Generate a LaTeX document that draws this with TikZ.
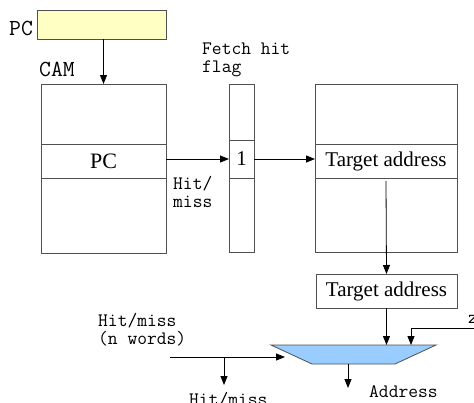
\documentclass[tikz,border=0pt]{standalone}
\usepackage{fontspec}
\setmainfont{Liberation Serif}
\usetikzlibrary{arrows.meta}
\definecolor{lgray}{RGB}{80,80,80}
\definecolor{pcyellow}{RGB}{255,255,196}
\definecolor{muxblue}{RGB}{153,204,255}
\newcommand{\mysmallmono}{\ttfamily\fontsize{19pt}{18pt}\selectfont}
\newcommand{\mylargemono}{\ttfamily\fontsize{23pt}{20pt}\selectfont}
\newcommand{\myserif}{\fontsize{21pt}{24pt}\selectfont}
\begin{document}
\begin{tikzpicture}[x=1pt,y=-1pt,
  box/.style={draw=lgray, line width=0.9pt, inner sep=0pt, outer sep=0pt},
  arr/.style={-{Triangle[length=9pt,width=7pt]}, line width=0.8pt, draw=black},
  mono/.style={font=\mysmallmono, inner sep=0pt, anchor=base west},
  monol/.style={font=\mylargemono, inner sep=0pt, anchor=base west},
  rowtxt/.style={font=\myserif}]
\useasboundingbox (0,0) rectangle (474,402);

% PC register
\node[box, fill=pcyellow, minimum width=129pt, minimum height=29pt] (pcbox) at (101.5,24.5) {};
\node[monol] (pclbl) at (9,35) {PC};

% CAM
\node[monol] (camlbl) at (39,76) {CAM};
\node[box, minimum width=125pt, minimum height=169pt] (cam) at (103.5,168.5) {};
\node[box, rowtxt, minimum width=125pt, minimum height=34pt, font=\fontsize{22pt}{24pt}\selectfont] (camrow) at (103.5,161) {PC};

% Fetch hit flag
\node[mono] (fhf1) at (202,54) {Fetch hit};
\node[mono] (fhf2) at (202,72) {flag};
\node[box, minimum width=25pt, minimum height=168pt] (flag) at (241.5,168) {};
\node[box, rowtxt, minimum width=25pt, minimum height=38pt] (flagrow) at (241.5,159) {1};

% Hit/miss label
\node[mono] (hm1) at (173,189) {Hit/};
\node[mono] (hm2) at (173,207) {miss};

% Target table
\node[box, minimum width=142pt, minimum height=168pt] (target) at (386,168) {};
\node[box, rowtxt, minimum width=142pt, minimum height=34pt] (trow) at (386,161) {Target address};

% Target address register
\node[box, rowtxt, minimum width=141pt, minimum height=34pt] (tabox) at (386.5,291) {Target address};

% Mux
\coordinate (mtl) at (271,345);
\coordinate (mtr) at (436,345);
\coordinate (mbr) at (395,364);
\coordinate (mbl) at (312,364);
\draw[draw=lgray, line width=0.8pt, fill=muxblue] (mtl) -- (mtr) -- (mbr) -- (mbl) -- cycle;

% Connectors
\draw[arr] (cam.north |- pcbox.south) -- (cam.north);
\draw[arr] (cam.east |- flagrow.west) -- (flagrow.west);
\draw[arr] (flagrow.east) -- (flagrow.east -| target.west);
\draw[arr] ([yshift=-3pt]trow.south) -- (tabox.north);
\draw[arr] (tabox.south) -- (tabox.south |- mtl);

\coordinate (zin) at (474,328);
\coordinate (zend) at (411,345);
\draw[arr] (zin) -| (zend);
\node[mono] (zlbl) at (468,323) {z};

\coordinate (hin) at (170,357);
\coordinate (hend) at (285,357);
\coordinate (hbr) at (224,357);
\coordinate (hbrend) at (224,385);
\draw[arr] (hin) -- (hend);
\draw[arr] (hbr) -- (hbrend);
\node[mono] (hmw1) at (98,326) {Hit/miss};
\node[mono] (hmw2) at (98,344) {(n words)};
\node[mono] (hmout) at (189,405) {Hit/miss};

\coordinate (mout) at (348,364);
\coordinate (moutend) at (348,388);
\draw[arr] (mout) -- (moutend);
\node[mono] (addr) at (369,397) {Address};
\end{tikzpicture}
\end{document}
